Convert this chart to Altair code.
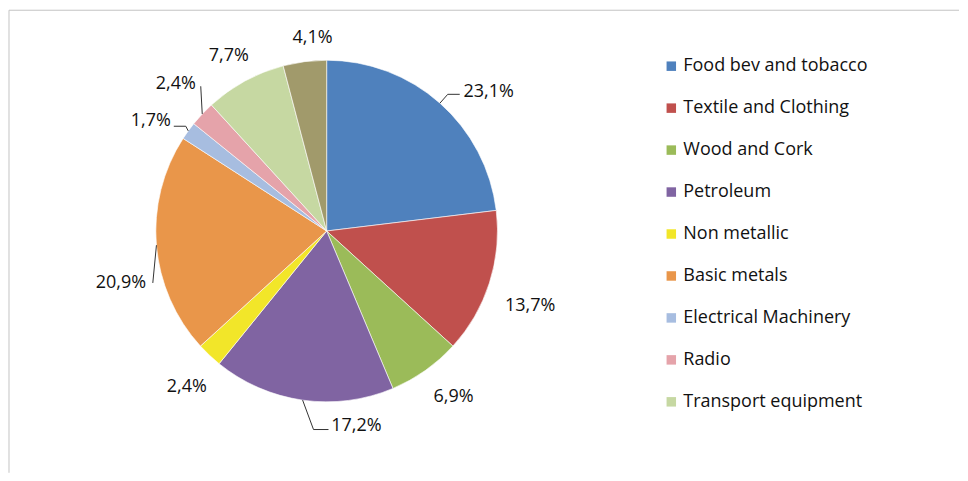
import math
import altair as alt
import pandas as pd

# ---- data ----
categories = ["Food bev and tobacco", "Textile and Clothing", "Wood and Cork",
              "Petroleum", "Non metallic", "Basic metals", "Electrical Machinery",
              "Radio", "Transport equipment", "Other"]
shares = [23.1, 13.7, 6.9, 17.2, 2.4, 20.9, 1.7, 2.4, 7.7, 4.1]
labels = ["23,1%", "13,7%", "6,9%", "17,2%", "2,4%", "20,9%", "1,7%", "2,4%", "7,7%", "4,1%"]
colors = ["#4F81BD", "#C0504D", "#9BBB59", "#8064A2", "#F2E629", "#E9964A",
          "#A7BDE0", "#E5A3AA", "#C6D8A2", "#A19A6B"]
legend_items = categories[:9]

# ---- layout ----
W, H = 636, 446
CX, CY = W / 2, H / 2
R = 171
label_nudge_deg = [7.9, 2.5, -2.2, -16.8, -1.4, -9.4, -3.9, 0.95, -0.65, 3.2]
label_radius = [213.5, 217, 209, 197, 209.6, 212.5, 207.5, 210.7, 200.6, 193.5]
# leader lines: slice index -> (elbow offset, end offset) relative to the label centre
leaders = {0: ((-41, 2), (-29, 2)), 3: ((-43, 4), (-28, 4)), 5: ((32, 0), (32, 0)),
           6: ((35, 5), (23, 5)), 7: ((25, 2), (25, 2))}

total = sum(shares)
rows, lead_rows = [], []
cum = 0.0
for i, (c, s, l) in enumerate(zip(categories, shares, labels)):
    mid = cum + s / 2
    cum += s
    mid_deg = mid / total * 360
    ang = mid_deg + label_nudge_deg[i]
    lpos = ang / 360 * total
    rows.append({"cat": c, "share": s, "label": l, "idx": i, "lpos": lpos, "lrad": label_radius[i]})
    if i in leaders:
        a = math.radians(ang)
        lx = CX + label_radius[i] * math.sin(a)
        ly = CY - label_radius[i] * math.cos(a)
        m = math.radians(mid_deg)
        ex, ey = CX + R * math.sin(m), CY - R * math.cos(m)
        (bx, by), (tx, ty) = leaders[i]
        pts = [(ex, ey), (lx + bx, ly + by), (lx + tx, ly + ty)]
        for k, (px, py) in enumerate(pts):
            lead_rows.append({"cat": c, "o": k, "x": px, "y": py})

df = pd.DataFrame(rows)
lead_df = pd.DataFrame(lead_rows)
frame_df = pd.DataFrame({"k": [0]})

theta_scale = alt.Scale(domain=[0, total])

pie = alt.Chart(df).mark_arc(outerRadius=R, stroke="white", strokeWidth=0.6).encode(
    theta=alt.Theta("share:Q", stack=True, scale=theta_scale),
    color=alt.Color("cat:N", scale=alt.Scale(domain=categories, range=colors),
                    legend=alt.Legend(values=legend_items, title=None, orient="none",
                                      legendX=654, legendY=49)),
    order=alt.Order("idx:Q"),
)

text = alt.Chart(df).mark_text(font="Open Sans", fontSize=18, color="#111111").encode(
    theta=alt.Theta("lpos:Q", stack=None, scale=theta_scale),
    radius=alt.Radius("lrad:Q", scale=None),
    text="label:N",
)

lead = alt.Chart(lead_df).mark_line(color="#333333", strokeWidth=1).encode(
    x=alt.X("x:Q", scale=None, axis=None),
    y=alt.Y("y:Q", scale=None, axis=None),
    detail="cat:N",
    order="o:Q",
)

top_line = alt.Chart(frame_df).mark_rule(color="#C4C4C4", strokeWidth=1).encode(
    x=alt.value(0), x2=alt.value(951), y=alt.value(2))
left_line = alt.Chart(frame_df).mark_rule(color="#C4C4C4", strokeWidth=1).encode(
    x=alt.value(0), y=alt.value(2), y2=alt.value(465))

chart = alt.layer(top_line, left_line, pie, lead, text).properties(
    width=W, height=H, padding=0
).configure_view(stroke=None).configure_legend(
    symbolType="square", symbolSize=90, symbolStrokeWidth=0,
    labelFont="Open Sans", labelFontSize=18, labelColor="#111111",
    labelLimit=400, labelOffset=3, rowPadding=24, padding=0,
)

chart.save("out.html", embed_options={"renderer": "svg", "actions": False})
